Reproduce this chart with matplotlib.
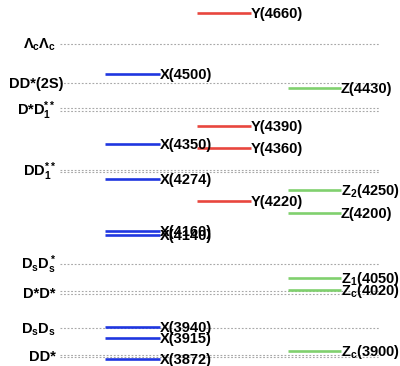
import matplotlib
matplotlib.use("Agg")
import matplotlib.pyplot as plt

plt.rcParams['font.family'] = ['Liberation Sans', 'DejaVu Sans']
plt.rcParams['mathtext.fontset'] = 'custom'
plt.rcParams['mathtext.rm'] = 'Liberation Sans:bold'
plt.rcParams['mathtext.it'] = 'Liberation Sans:bold'
plt.rcParams['mathtext.bf'] = 'Liberation Sans:bold'
plt.rcParams['mathtext.sf'] = 'Liberation Sans:bold'

# Thresholds (MeV): label, list of masses (double lines for charge partners)
threshold_labels = [r'$\Lambda_c\Lambda_c$', r'DD*(2S)', r'D*D$_1^{**}$', r'DD$_1^{**}$',
                    r'D$_s$D$_s^*$', r'D*D*', r'D$_s$D$_s$', r'DD*']
threshold_masses = [[4574], [4487], [4424, 4430], [4287, 4292],
                    [4081], [4014, 4020], [3937], [3872, 3878]]

# X states (blue)
x_labels = ['X(4500)', 'X(4350)', 'X(4274)', 'X(4160)', 'X(4140)', 'X(3940)', 'X(3915)', 'X(3872)']
x_masses = [4506, 4350, 4271, 4155, 4146, 3940.6, 3915, 3869]

# Y states (red)
y_labels = ['Y(4660)', 'Y(4390)', 'Y(4360)', 'Y(4220)']
y_masses = [4642.5, 4390, 4341, 4222]

# Z states (green)
z_labels = ['Z(4430)', r'Z$_2$(4250)', 'Z(4200)', r'Z$_1$(4050)', r'Z$_c$(4020)', r'Z$_c$(3900)']
z_masses = [4476, 4247, 4195, 4050, 4023, 3886]

W, H = 400, 366
fig = plt.figure(figsize=(W / 100, H / 100), dpi=100)
ax = fig.add_axes([0, 0, 1, 1])
ax.set_xlim(0, W)
ax.set_ylim(3852.6, 4672.3)
ax.axis('off')

fs = 10.5
cap_off = -3.7  # points, to center capitals on the line

for lab, ms in zip(threshold_labels, threshold_masses):
    for m in ms:
        ax.plot([60, 380], [m, m], color='#a8a8a8', lw=0.8, ls=(0, (1.6, 1.6)), zorder=1)
    mc = sum(ms) / len(ms)
    xr = 63 if lab == 'DD*(2S)' else 56
    ax.annotate(lab, (xr, mc), xytext=(0, cap_off), textcoords='offset points',
                ha='right', va='baseline', fontsize=fs, fontweight='bold', color='black',
                zorder=4)

def draw_states(labels, masses, x0, x1, color):
    for lab, m in zip(labels, masses):
        ax.plot([x0, x1], [m, m], color=color, lw=1.9, solid_capstyle='butt', zorder=3)
        ax.annotate(lab, (x1, m), xytext=(0, cap_off), textcoords='offset points',
                    ha='left', va='baseline', fontsize=fs, fontweight='bold', color='black',
                    zorder=4)

draw_states(x_labels, x_masses, 105, 160, '#1f36e0')
draw_states(y_labels, y_masses, 197, 251, '#e8463e')
draw_states(z_labels, z_masses, 288, 341, '#80d06e')

fig.savefig('out.png', dpi=100)
